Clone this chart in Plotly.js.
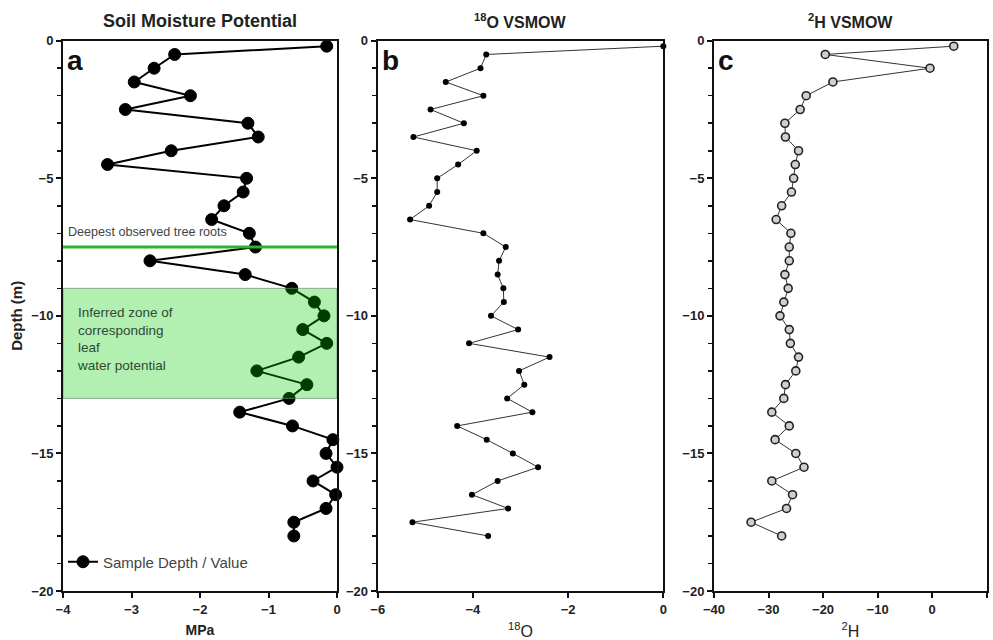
<!DOCTYPE html>
<html>
<head>
<meta charset="utf-8">
<script src="https://cdn.plot.ly/plotly-3.0.1.min.js"></script>
<style>html,body{margin:0;padding:0;background:#fff;}#chart{width:993px;height:640px;}</style>
</head>
<body>
<div id="chart"></div>
<script>
// Depth of each sample (m, plotted as negative)
const depths = [-0.2,-0.5,-1,-1.5,-2,-2.5,-3,-3.5,-4,-4.5,-5,-5.5,-6,-6.5,-7,-7.5,-8,-8.5,-9,-9.5,-10,-10.5,-11,-11.5,-12,-12.5,-13,-13.5,-14,-14.5,-15,-15.5,-16,-16.5,-17,-17.5,-18];
// Panel a: soil moisture potential (MPa)
const soilMPa = [-0.15,-2.37,-2.67,-2.96,-2.14,-3.09,-1.30,-1.15,-2.42,-3.35,-1.32,-1.37,-1.65,-1.83,-1.28,-1.19,-2.73,-1.34,-0.66,-0.33,-0.19,-0.50,-0.15,-0.56,-1.17,-0.44,-0.70,-1.42,-0.65,-0.06,-0.16,0.00,-0.35,-0.02,-0.16,-0.63,-0.63];
// Panel b: 18O VSMOW
const d18O = [0.0,-3.72,-3.84,-4.57,-3.78,-4.89,-4.19,-5.25,-3.92,-4.31,-4.75,-4.75,-4.92,-5.32,-3.78,-3.31,-3.45,-3.48,-3.36,-3.35,-3.62,-3.05,-4.08,-2.39,-3.03,-2.92,-3.28,-2.75,-4.33,-3.71,-3.16,-2.63,-3.48,-4.02,-3.26,-5.27,-3.68];
// Panel c: 2H VSMOW
const d2H = [3.96,-19.6,-0.4,-18.2,-23.1,-24.2,-27.0,-26.9,-24.5,-25.1,-25.4,-25.8,-27.6,-28.6,-25.9,-26.2,-26.2,-27.0,-26.4,-27.2,-27.9,-26.2,-26.0,-24.5,-25.0,-26.9,-27.2,-29.4,-26.2,-28.8,-25.0,-23.5,-29.4,-25.6,-26.7,-33.2,-27.6];

const rootDepth = -7.5;
const zoneTop = -9, zoneBottom = -13;
const panelTitles = ['Soil Moisture Potential', '<sup>18</sup>O VSMOW', '<sup>2</sup>H VSMOW'];
const panelLetters = ['a', 'b', 'c'];
const xTitles = ['MPa', '<sup>18</sup>O', '<sup>2</sup>H'];
const yTitle = 'Depth (m)';
const legendLabel = 'Sample Depth / Value';
const rootLabel = 'Deepest observed tree roots';
const zoneLabel = 'Inferred zone of<br>corresponding<br>leaf<br>water potential';

const FONT = 'Arial, "Liberation Sans", sans-serif';
const W = 993, H = 640;
const px = v => v / W, py = v => 1 - v / H;

const xDomains = [[px(63), px(337)], [px(377.7), px(663.3)], [px(714), px(986.7)]];
const yDomain = [py(591), py(40.7)];

const traces = [
  {x: soilMPa, y: depths, xaxis: 'x', yaxis: 'y', type: 'scatter', mode: 'lines+markers',
   name: legendLabel, showlegend: true, cliponaxis: false,
   line: {color: '#000', width: 2},
   marker: {color: '#000', size: 12, line: {color: '#000', width: 1}}},
  {x: d18O, y: depths, xaxis: 'x2', yaxis: 'y2', type: 'scatter', mode: 'lines+markers',
   showlegend: false, cliponaxis: false,
   line: {color: '#333', width: 1},
   marker: {color: '#000', size: 6}},
  {x: d2H, y: depths, xaxis: 'x3', yaxis: 'y3', type: 'scatter', mode: 'lines+markers',
   showlegend: false, cliponaxis: false,
   line: {color: '#333', width: 1},
   marker: {color: '#cfcfcf', size: 8, line: {color: '#222', width: 1.6}}}
];

const tickFont = {family: FONT, size: 13, color: '#222', weight: 'bold'};
function xAxis(i, range, dtick) {
  return {domain: xDomains[i], range: range, dtick: dtick, tick0: 0, anchor: i === 0 ? 'y' : 'y' + (i + 1),
    showline: true, mirror: true, linecolor: '#111', linewidth: 2, ticks: 'outside', ticklen: 5, tickwidth: 2,
    tickcolor: '#111', showgrid: false, zeroline: false, tickfont: tickFont, fixedrange: true,
    title: {text: xTitles[i], standoff: 10,
      font: {family: FONT, size: i === 0 ? 14 : 16, color: '#222', weight: i === 0 ? 'bold' : 'normal'}}};
}
function yAxis(i) {
  const a = {domain: yDomain, range: [-20, 0], dtick: 5, tick0: 0, anchor: i === 0 ? 'x' : 'x' + (i + 1),
    showline: true, mirror: true, linecolor: '#111', linewidth: 2, ticks: 'outside', ticklen: 5, tickwidth: 2,
    tickcolor: '#111', showgrid: false, zeroline: false, tickfont: tickFont, fixedrange: true,
    minor: {dtick: 1, tick0: 0, ticks: 'outside', ticklen: 4, tickwidth: 1.5, tickcolor: '#111', showgrid: false}};
  if (i === 0) a.title = {text: yTitle, standoff: 5, font: {family: FONT, size: 15, color: '#222', weight: 'bold'}};
  return a;
}

const annotations = [];
panelTitles.forEach((t, i) => {
  annotations.push({text: t, xref: 'paper', yref: 'paper', x: (xDomains[i][0] + xDomains[i][1]) / 2, y: py(21),
    xanchor: 'center', yanchor: 'middle', showarrow: false,
    font: {family: FONT, size: i === 0 ? 18 : 16, color: '#222', weight: 'bold'}});
  annotations.push({text: panelLetters[i], xref: 'paper', yref: 'paper', x: xDomains[i][0] + px(2), y: py(43),
    xanchor: 'left', yanchor: 'top', showarrow: false,
    font: {family: FONT, size: 28, color: '#111', weight: 'bold'}});
});
annotations.push({text: rootLabel, xref: 'paper', yref: 'paper', x: px(66), y: py(232),
  xanchor: 'left', yanchor: 'middle', showarrow: false, font: {family: FONT, size: 12.6, color: '#444'}});
annotations.push({text: zoneLabel, xref: 'paper', yref: 'paper',
  x: px(75), y: py(339), xanchor: 'left', yanchor: 'middle', align: 'left', showarrow: false,
  font: {family: FONT, size: 13.5, color: '#2f4a2f'}});

const shapes = [
  {type: 'rect', xref: 'x', yref: 'y', x0: -4, x1: 0, y0: zoneBottom, y1: zoneTop, layer: 'above',
   fillcolor: 'rgba(0,205,0,0.3)', line: {color: 'rgba(110,140,110,0.7)', width: 1}},
  {type: 'line', xref: 'x', yref: 'y', x0: -4, x1: 0, y0: rootDepth, y1: rootDepth, layer: 'above',
   line: {color: '#2db42d', width: 3}}
];

const layout = {
  width: W, height: H, margin: {l: 0, r: 0, t: 0, b: 0},
  paper_bgcolor: '#fff', plot_bgcolor: '#fff',
  font: {family: FONT, color: '#222'},
  xaxis: xAxis(0, [-4, 0], 1), xaxis2: xAxis(1, [-6, 0], 2), xaxis3: xAxis(2, [-40, 10], 10),
  yaxis: yAxis(0), yaxis2: yAxis(1), yaxis3: yAxis(2),
  showlegend: true,
  legend: {x: px(63), y: py(562), xanchor: 'left', yanchor: 'middle', bgcolor: 'rgba(0,0,0,0)',
    font: {family: FONT, size: 15, color: '#444'}},
  annotations: annotations, shapes: shapes
};

Plotly.newPlot('chart', traces, layout, {displayModeBar: false, staticPlot: true});
</script>
</body>
</html>
